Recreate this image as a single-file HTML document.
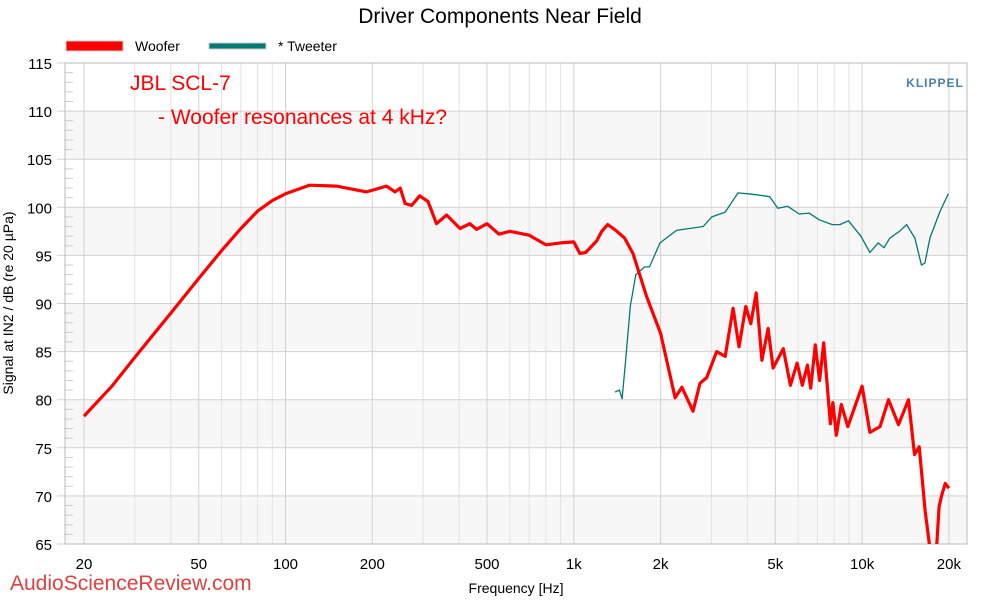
<!DOCTYPE html>
<html><head><meta charset="utf-8"><style>
body{margin:0;background:#fff;font-family:"Liberation Sans",sans-serif;}
svg{display:block}
</style></head><body>
<svg id="chart" width="1000" height="600" xmlns="http://www.w3.org/2000/svg">
<text x="500" y="23" text-anchor="middle" font-size="21" fill="#000">Driver Components Near Field</text>
<g>
<rect x="66" y="41" width="57" height="10" fill="#f00" stroke="#ccc"/>
<text x="135" y="51" font-size="14">Woofer</text>
<rect x="209" y="43" width="57" height="6" fill="#007a74" stroke="#ccc"/>
<text x="278" y="51" font-size="14">* Tweeter</text>
</g>
<g id="grid"></g>
<g id="marks"></g>
<text x="130" y="90" font-size="21" fill="#f00">JBL SCL-7</text>
<text x="158" y="124" font-size="21" fill="#f00">- Woofer resonances at 4 kHz?</text>
<text x="935" y="87" text-anchor="middle" font-size="12" font-weight="bold" fill="#4a7fa8" letter-spacing="1">KLIPPEL</text>
<text x="516" y="593" text-anchor="middle" font-size="14">Frequency [Hz]</text>
<text transform="translate(13,303) rotate(-90)" text-anchor="middle" font-size="14">Signal at IN2 / dB (re 20 µPa)</text>
<text x="10" y="590" font-size="21" fill="#e04040">AudioScienceReview.com</text>
</svg>
<script>
const yTicks=[65,70,75,80,85,90,95,100,105,110,115];
const xTickVals=[20,50,100,200,500,1000,2000,5000,10000,20000];
const xTickLabels=["20","50","100","200","500","1k","2k","5k","10k","20k"];
const wooferF=[20,25,30,40,50,60,70,80,90,100,121,150,191,224,240,250,260,274,292,312,334,362,403,436,460,500,550,600,700,800,900,1000,1050,1100,1200,1250,1311,1400,1500,1604,1790,2000,2245,2370,2590,2740,2890,3130,3350,3570,3740,3950,4110,4290,4490,4720,4910,5330,5640,5950,6200,6460,6630,6880,7120,7360,7760,7920,8140,8470,8920,10000,10640,11540,12350,13370,14490,15200,15780,16550,17440,18160,18500,18900,19440,20000];
const wooferDb=[78.3,81.4,84.4,89,92.6,95.5,97.8,99.6,100.7,101.4,102.3,102.2,101.6,102.2,101.6,102,100.4,100.2,101.2,100.6,98.3,99.2,97.8,98.3,97.7,98.3,97.2,97.5,97.1,96.1,96.3,96.4,95.2,95.3,96.5,97.5,98.2,97.6,96.8,95.2,90.7,86.9,80.2,81.3,78.8,81.7,82.3,85,84.5,89.5,85.5,89.7,87.9,91.1,84.1,87.4,83.3,85.3,81.5,83.8,81.5,83.6,81.2,85.7,82,85.9,77.5,79.7,76.3,79.5,77.2,81.4,76.6,77.2,80,77.4,80,74.3,75.1,68.4,63,65,68.9,70.1,71.3,70.8];
const tweeterF=[1390,1440,1470,1510,1570,1640,1760,1830,1990,2270,2810,3010,3350,3710,4020,4310,4780,5100,5520,6050,6550,7100,7880,8370,8970,9900,10640,11370,11920,12470,13480,14270,15240,16060,16510,17180,18580,19900];
const tweeterDb=[80.8,81,80.1,83.8,89.7,93,93.8,93.8,96.3,97.6,98,99,99.5,101.5,101.4,101.3,101.1,99.9,100.1,99.3,99.4,98.7,98.2,98.2,98.6,97,95.3,96.3,95.8,96.8,97.5,98.2,96.8,94,94.2,96.8,99.5,101.4];

const L=65,R=967,T=63,B=544;
const xs=f=>84+288.3*(Math.log10(f)-Math.log10(20));
const ys=d=>T+(115-d)*(B-T)/50;
const NS="http://www.w3.org/2000/svg";
const grid=document.getElementById('grid'),marks=document.getElementById('marks');
function mk(tag,at,parent){const e=document.createElementNS(NS,tag);for(const k in at)e.setAttribute(k,at[k]);parent.appendChild(e);return e;}
for(let i=0;i<yTicks.length-1;i++){
 if(i%2===0){const r=mk('rect',{x:L,y:ys(yTicks[i+1]),width:R-L,height:ys(yTicks[i])-ys(yTicks[i+1]),fill:'#f7f7f7'},grid);
 
 }
}
for(let dec=10;dec<=10000;dec*=10){for(let m=1;m<10;m++){const f=dec*m;const x=xs(f);if(x<L||x>R)continue;
 const major=xTickVals.includes(f);
 const l=mk('line',{x1:x,x2:x,y1:T,y2:B,stroke:major?'#d2d2d2':'#e2e2e2','stroke-width':1},grid);
 
 }}
yTicks.forEach(v=>{const y=ys(v);
 const l=mk('line',{x1:L-8,x2:R,y1:y,y2:y,stroke:'#d2d2d2'},grid);
 
 
 const t=mk('text',{x:52,y:y+6,'text-anchor':'end','font-size':15},grid);t.textContent=v;
 
 });
for(let v=66;v<115;v++){if(v%5===0)continue;const y=ys(v);
 const l=mk('line',{x1:L,x2:L+8,y1:y,y2:y,stroke:'#ccc'},grid);
 
 }
mk('rect',{x:L,y:T,width:R-L,height:B-T,fill:'none',stroke:'#bbb'},grid);
xTickVals.forEach((f,i)=>{const t=mk('text',{x:xs(f),y:569,'text-anchor':'middle','font-size':15},grid);t.textContent=xTickLabels[i];
 
 });
const defs=mk('defs',{},marks);const cp=mk('clipPath',{id:'pc'},defs);mk('rect',{x:L,y:T,width:R-L,height:B-T},cp);
function line(F,D,color,w,name){const d=F.map((f,i)=>(i?'L':'M')+xs(f).toFixed(1)+','+ys(D[i]).toFixed(1)).join('');
 const p=mk('path',{d:d,fill:'none',stroke:color,'stroke-width':w,'stroke-linejoin':'round','clip-path':'url(#pc)'},marks);
 
 }
line(tweeterF,tweeterDb,'#007a74',1.3,'tweeter-line');
line(wooferF,wooferDb,'#f00',3.2,'woofer-line');
</script>
</body></html>
